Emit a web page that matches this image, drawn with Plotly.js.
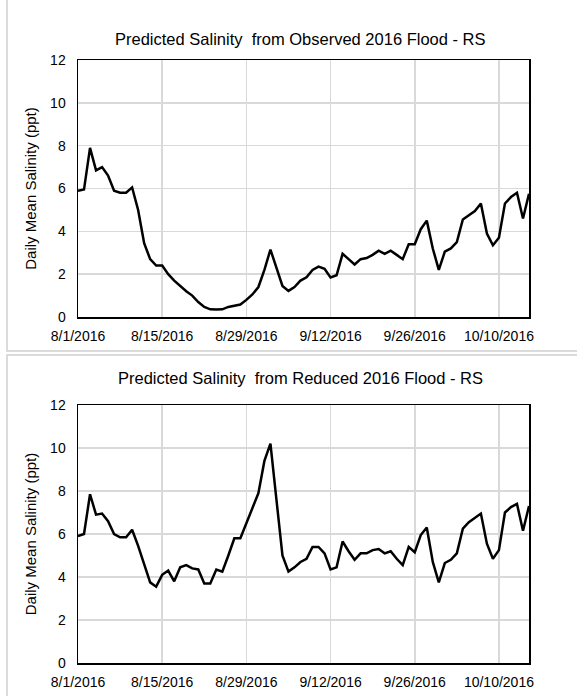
<!DOCTYPE html>
<html><head><meta charset="utf-8">
<script src="https://cdn.plot.ly/plotly-3.0.1.min.js"></script>
<style>body{margin:0;background:#fff}</style></head>
<body><div id="chart" style="width:577px;height:696px"></div>
<script>
const startDate = "2016-08-01";
const observed = [5.89,5.95,7.9,6.85,7.0,6.6,5.9,5.8,5.8,6.05,5.0,3.45,2.7,2.4,2.4,2.0,1.7,1.45,1.2,1.0,0.7,0.47,0.36,0.35,0.36,0.47,0.52,0.58,0.8,1.05,1.4,2.2,3.15,2.35,1.45,1.22,1.4,1.7,1.85,2.2,2.35,2.25,1.85,1.95,2.95,2.7,2.45,2.7,2.75,2.9,3.1,2.95,3.1,2.9,2.7,3.4,3.4,4.1,4.5,3.2,2.2,3.05,3.2,3.5,4.55,4.75,4.95,5.3,3.9,3.35,3.7,5.3,5.6,5.8,4.6,5.75];
const reduced = [5.9,6.0,7.85,6.9,6.95,6.6,6.0,5.85,5.85,6.2,5.45,4.55,3.75,3.55,4.1,4.3,3.8,4.45,4.55,4.4,4.35,3.7,3.7,4.35,4.25,5.0,5.8,5.8,6.5,7.15,7.9,9.4,10.2,7.6,5.0,4.25,4.45,4.7,4.85,5.4,5.4,5.1,4.35,4.45,5.65,5.2,4.8,5.1,5.1,5.25,5.3,5.1,5.2,4.85,4.55,5.4,5.15,5.95,6.3,4.7,3.75,4.65,4.8,5.1,6.25,6.55,6.75,6.95,5.55,4.85,5.25,7.0,7.25,7.4,6.15,7.3];
const tickDates = ["2016-08-01","2016-08-15","2016-08-29","2016-09-12","2016-09-26","2016-10-10"];
const tickLabels = ["8/1/2016","8/15/2016","8/29/2016","9/12/2016","9/26/2016","10/10/2016"];
const titles = ["Predicted Salinity  from Observed 2016 Flood - RS","Predicted Salinity  from Reduced 2016 Flood - RS"];

function dates(n){const out=[];const d0=new Date(startDate+"T00:00:00Z");for(let i=0;i<n;i++){const d=new Date(d0.getTime()+i*86400000);out.push(d.toISOString().slice(0,10));}return out;}
const x = dates(observed.length);
const line = {color:'#000',width:2.5};
const data = [
 {x:x,y:observed,type:'scatter',mode:'lines',line:line,xaxis:'x',yaxis:'y',hoverinfo:'skip'},
 {x:x,y:reduced,type:'scatter',mode:'lines',line:line,xaxis:'x2',yaxis:'y2',hoverinfo:'skip'}
];
const font = {family:'Liberation Sans, Arial, sans-serif',size:14,color:'#000'};
function xa(anchor){return {domain:[78/577,529/577],anchor:anchor,type:'date',range:["2016-08-01","2016-10-15"],
 tickvals:tickDates,ticktext:tickLabels,tickangle:0,showgrid:true,gridcolor:'#d9d9d9',gridwidth:1.5,
 showline:true,linecolor:'#000',linewidth:1.5,mirror:true,ticks:'',zeroline:false,tickfont:font,ticklabelstandoff:6};}
function ya(anchor,dom){return {domain:dom,anchor:anchor,range:[0,12],dtick:2,showgrid:true,gridcolor:'#d9d9d9',gridwidth:1.5,
 showline:true,linecolor:'#000',linewidth:1.5,mirror:true,ticks:'',zeroline:false,tickfont:font,ticklabelstandoff:8,
 title:{text:'Daily Mean Salinity (ppt)',font:{family:font.family,size:15,color:'#000'},standoff:10}};}
const layout = {
 width:577,height:696,margin:{l:0,r:0,t:0,b:0},showlegend:false,paper_bgcolor:'#fff',plot_bgcolor:'#fff',
 xaxis:xa('y'),yaxis:ya('x',[1-317/696,1-60/696]),
 xaxis2:xa('y2'),yaxis2:ya('x2',[1-663/696,1-405/696]),
 annotations:[
  {text:titles[0],xref:'paper',yref:'paper',x:0.52,y:1-28/696,showarrow:false,font:{family:font.family,size:16.5,color:'#000'}},
  {text:titles[1],xref:'paper',yref:'paper',x:0.52,y:1-378/696,showarrow:false,font:{family:font.family,size:16.5,color:'#000'}}
 ],
 shapes:[
  {type:'rect',xref:'paper',yref:'paper',x0:7/577,x1:1.01,y0:1-351/696,y1:1.01,line:{color:'#d0d0d0',width:1.5}},
  {type:'rect',xref:'paper',yref:'paper',x0:7/577,x1:1.01,y0:-0.01,y1:1-355/696,line:{color:'#d0d0d0',width:1.5}}
 ]
};
Plotly.newPlot('chart',data,layout,{staticPlot:true});
</script></body></html>
